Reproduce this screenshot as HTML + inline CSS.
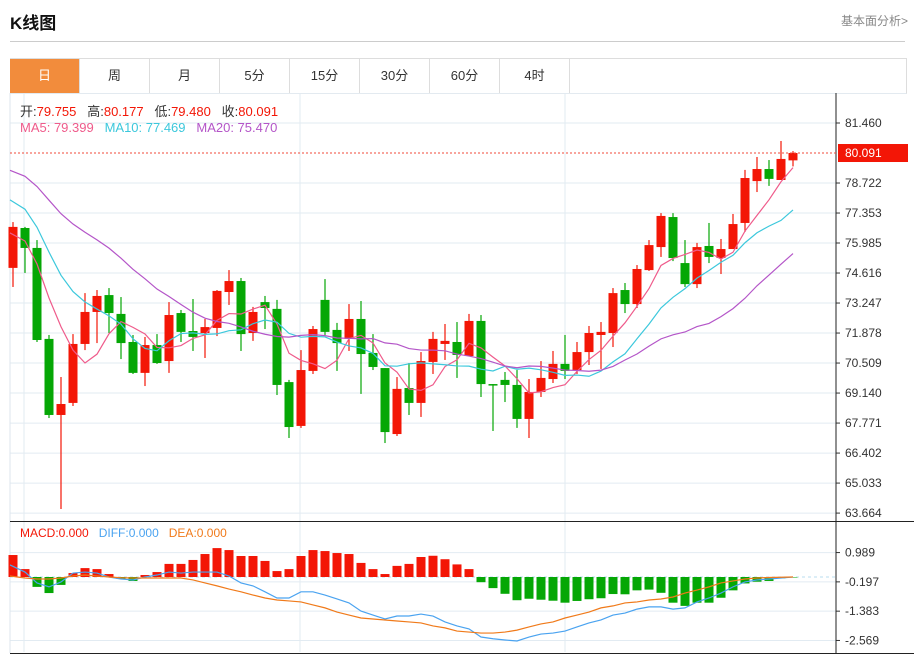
<!DOCTYPE html>
<html><head><meta charset="utf-8">
<style>
body{margin:0;background:#fff;width:914px;height:655px;overflow:hidden;font-family:"Liberation Sans","Noto Sans CJK SC",sans-serif;}
#wrap{position:relative;width:914px;height:655px;}
.t{position:absolute;white-space:nowrap;}
.tab{position:absolute;top:59px;height:34px;width:69px;border-right:1px solid #ddd;text-align:center;line-height:34px;font-size:13px;color:#333;}
</style></head><body>
<div id="wrap">
<div class="t" style="left:10px;top:9px;font-size:17px;font-weight:bold;color:#111;">K线图</div>
<div class="t" style="left:841px;top:12px;font-size:12px;color:#888;">基本面分析&gt;</div>
<div style="position:absolute;left:10px;top:41px;width:895px;height:1px;background:#ccc;"></div>
<div style="position:absolute;left:10px;top:58px;width:895px;height:34px;border:1px solid #ddd;border-bottom:1px solid #e3eaf0;"></div>
<div class="tab" style="left:10px;background:#f28c3c;color:#fff;">日</div>
<div class="tab" style="left:80px;">周</div>
<div class="tab" style="left:150px;">月</div>
<div class="tab" style="left:220px;">5分</div>
<div class="tab" style="left:290px;">15分</div>
<div class="tab" style="left:360px;">30分</div>
<div class="tab" style="left:430px;">60分</div>
<div class="tab" style="left:500px;">4时</div>
<svg id="chart" width="914" height="655" style="position:absolute;left:0;top:0;" xmlns="http://www.w3.org/2000/svg"></svg>
<div class="t" style="left:20px;top:101px;font-size:13px;color:#333;">开:<span style="color:#f31606">79.755</span>&nbsp;&nbsp; 高:<span style="color:#f31606">80.177</span>&nbsp;&nbsp; 低:<span style="color:#f31606">79.480</span>&nbsp;&nbsp; 收:<span style="color:#f31606">80.091</span></div>
<div class="t" style="left:20px;top:120px;font-size:13px;"><span style="color:#ef5b8b">MA5: 79.399</span>&nbsp;&nbsp; <span style="color:#3cc8dc">MA10: 77.469</span>&nbsp;&nbsp; <span style="color:#b455c8">MA20: 75.470</span></div>
<div class="t" style="left:20px;top:526px;font-size:12px;"><span style="color:#f31606">MACD:0.000</span>&nbsp;&nbsp; <span style="color:#4aa3f0">DIFF:0.000</span>&nbsp;&nbsp; <span style="color:#f07a1a">DEA:0.000</span></div>
</div>
<script>
const opens=[74.85,76.67,75.76,71.61,68.14,68.69,71.38,72.84,73.61,72.75,71.47,70.06,71.33,70.60,72.79,71.97,71.88,72.11,73.75,74.25,71.88,73.29,72.98,69.64,67.64,70.15,73.39,72.02,71.61,72.52,70.97,70.28,67.27,69.37,68.69,70.56,71.38,71.47,70.83,72.43,69.55,69.74,69.51,67.96,69.19,69.78,70.47,70.19,71.01,71.79,71.88,73.84,73.20,74.75,75.80,77.17,75.07,74.11,75.85,75.30,75.71,76.90,78.81,79.36,78.86,79.755];
const highs=[76.94,76.72,76.12,71.79,69.87,71.83,73.70,73.84,73.93,73.52,71.79,71.70,71.83,73.29,72.93,73.43,72.52,73.84,74.75,74.39,73.07,73.57,73.39,69.74,71.10,72.20,74.34,72.34,73.20,73.34,71.83,70.28,69.87,70.51,71.01,71.93,72.29,72.38,72.75,72.70,69.55,70.10,70.19,69.78,70.60,71.06,71.79,71.47,72.20,72.38,73.93,74.16,74.98,76.12,77.35,77.35,76.12,75.99,76.90,76.17,77.31,79.32,79.91,79.77,80.64,80.177];
const lows=[73.98,74.62,71.47,68.00,63.85,68.55,71.10,71.42,71.88,70.69,70.01,69.46,70.47,70.06,71.47,71.06,70.74,71.74,73.16,71.06,71.52,72.06,69.05,67.09,67.55,70.01,71.79,70.15,71.06,69.10,70.19,66.86,67.18,68.14,68.05,70.01,70.65,69.83,70.83,68.96,67.41,68.73,67.55,67.09,68.96,69.60,69.78,70.01,70.42,70.24,71.24,72.79,73.02,74.71,75.35,75.16,73.98,73.93,75.07,74.57,75.71,76.49,78.31,78.59,78.86,79.48];
const closes=[76.72,75.76,71.56,68.14,68.64,71.38,72.84,73.57,72.79,71.42,70.06,71.33,70.51,72.70,71.93,71.70,72.15,73.80,74.25,71.83,72.84,73.02,69.51,67.59,70.19,72.06,71.93,71.42,72.52,70.92,70.33,67.36,69.33,68.69,70.60,71.61,71.52,70.88,72.43,69.55,69.51,69.51,67.96,69.19,69.83,70.47,70.15,71.01,71.88,71.93,73.70,73.20,74.80,75.89,77.22,75.30,74.11,75.80,75.35,75.71,76.85,78.95,79.36,78.91,79.82,80.091];
const priorCloses=[81.2,80.9,80.6,81.0,80.8,80.3,80.5,80.4,80.6,80.2,80.0,79.8,79.5,79.2,78.8,77.6,76.8,75.9,75.2];
const macdBars=[0.89,0.32,-0.40,-0.65,-0.32,0.16,0.36,0.32,0.12,-0.08,-0.16,0.08,0.20,0.53,0.53,0.69,0.93,1.17,1.09,0.85,0.85,0.65,0.24,0.32,0.85,1.09,1.05,0.97,0.93,0.57,0.32,0.12,0.45,0.53,0.81,0.86,0.72,0.51,0.32,-0.21,-0.45,-0.68,-0.94,-0.88,-0.92,-0.96,-1.04,-0.97,-0.90,-0.86,-0.69,-0.70,-0.54,-0.51,-0.64,-1.04,-1.17,-1.04,-1.04,-0.84,-0.54,-0.26,-0.19,-0.16,-0.05,-0.02];
const diffVals=[0.49,0.20,-0.24,-0.40,-0.20,0.16,0.20,0.16,0,-0.08,-0.12,0,0.08,0.20,0.16,0.20,0.20,0.20,0.04,-0.24,-0.36,-0.60,-0.85,-0.85,-0.60,-0.60,-0.73,-0.89,-1.05,-1.38,-1.54,-1.70,-1.58,-1.58,-1.50,-1.58,-1.82,-1.98,-2.10,-2.43,-2.50,-2.55,-2.59,-2.43,-2.31,-2.27,-2.19,-2.02,-1.86,-1.74,-1.54,-1.46,-1.30,-1.21,-1.21,-1.30,-1.25,-1.01,-0.85,-0.65,-0.40,-0.20,-0.12,-0.08,-0.04,0];
const deaVals=[0.04,-0.04,-0.08,-0.08,-0.04,0.04,0.08,0.04,0,-0.03,-0.04,-0.04,-0.04,-0.04,-0.04,-0.12,-0.24,-0.36,-0.49,-0.60,-0.73,-0.85,-0.93,-0.97,-1.01,-1.13,-1.25,-1.42,-1.54,-1.66,-1.70,-1.74,-1.78,-1.82,-1.86,-1.98,-2.06,-2.19,-2.23,-2.27,-2.27,-2.23,-2.15,-2.02,-1.90,-1.82,-1.66,-1.54,-1.42,-1.25,-1.17,-1.05,-1.01,-0.93,-0.89,-0.81,-0.65,-0.53,-0.40,-0.24,-0.16,-0.08,-0.04,-0.02,-0.01,0];
const priceTicks=[81.460,80.091,78.722,77.353,75.985,74.616,73.247,71.878,70.509,69.140,67.771,66.402,65.033,63.664];
const macdTicks=[0.989,-0.197,-1.383,-2.569];
const lastPrice=80.091;

const svg=document.getElementById('chart');
const NS='http://www.w3.org/2000/svg';
const X=i=>13+i*12;
const Y=p=>123+(81.46-p)*21.92;
const MY=v=>577-v*24.7;
function mk(tag,a){const e=document.createElementNS(NS,tag);for(const k in a)e.setAttribute(k,a[k]);svg.appendChild(e);return e;}

// grid
priceTicks.forEach((p,i)=>{
 if(i===1)return;
 const g=mk('line',{x1:10,x2:836,y1:Y(p),y2:Y(p),stroke:'#e2ebf2','stroke-width':1});
 
 
 const t=mk('text',{x:845,y:Y(p)+4,'font-size':12,fill:'#333','font-family':'Liberation Sans, sans-serif'});
 t.textContent=p.toFixed(3);
 
 
 mk('line',{x1:836,x2:840,y1:Y(p),y2:Y(p),stroke:'#333'});
});
[24,300,565].forEach(x=>{
 const g=mk('line',{x1:x,x2:x,y1:93,y2:652,stroke:'#e2ebf2'});
 
 
});
macdTicks.forEach(v=>{
 const g=mk('line',{x1:10,x2:836,y1:MY(v),y2:MY(v),stroke:'#e2ebf2'});
 
 
 const t=mk('text',{x:845,y:MY(v)+4,'font-size':12,fill:'#333','font-family':'Liberation Sans, sans-serif'});
 t.textContent=v.toFixed(3);
 
 
 mk('line',{x1:836,x2:840,y1:MY(v),y2:MY(v),stroke:'#333'});
});
// frame
mk('line',{x1:10,x2:10,y1:93,y2:653,stroke:'#dde5ec'});
mk('line',{x1:836,x2:836,y1:93,y2:653,stroke:'#222'});
const sep=mk('line',{x1:10,x2:914,y1:521.5,y2:521.5,stroke:'#222'});


mk('line',{x1:10,x2:914,y1:653.5,y2:653.5,stroke:'#222'});

// candles
closes.forEach((c,i)=>{
 const o=opens[i],up=c>=o,col=up?'#f31606':'#05a705';
 const w=mk('line',{x1:X(i),x2:X(i),y1:Y(highs[i]),y2:Y(lows[i]),stroke:col,'stroke-width':1.2});
 
 
 const top=Y(Math.max(o,c)),bot=Y(Math.min(o,c));
 const r=mk('rect',{x:X(i)-4.5,y:top,width:9,height:Math.max(1.5,bot-top),fill:col});
 
 
});
// MAs
const all=priorCloses.concat(closes);
function ma(n){return closes.map((_,i)=>{const j=i+priorCloses.length;let s=0;for(let k=j-n+1;k<=j;k++)s+=all[k];return s/n;});}
[[5,'#ef5b8b','ma5-line'],[10,'#3cc8dc','ma10-line'],[20,'#b455c8','ma20-line']].forEach(([n,col,name])=>{
 const v=ma(n);
 const pts=v.map((p,i)=>(i===0?10:X(i))+','+Y(p)).join(' ');
 const l=mk('polyline',{points:pts,fill:'none',stroke:col,'stroke-width':1.2});
 
 
});
// last price
const lp=mk('line',{x1:10,x2:836,y1:Y(lastPrice),y2:Y(lastPrice),stroke:'#f04a3a','stroke-dasharray':'2,2'});


const lb=mk('rect',{x:838,y:Y(lastPrice)-9,width:70,height:18,fill:'#f31606'});


const lt=mk('text',{x:845,y:Y(lastPrice)+4,'font-size':12,fill:'#fff','font-family':'Liberation Sans, sans-serif'});
lt.textContent=lastPrice.toFixed(3);



// MACD
const zl=mk('line',{x1:10,x2:836,y1:MY(0),y2:MY(0),stroke:'#b8dcef','stroke-dasharray':'3,3'});


macdBars.forEach((v,i)=>{
 const y0=MY(0),y1=MY(v);
 const b=mk('rect',{x:X(i)-4.5,y:Math.min(y0,y1),width:9,height:Math.max(0.5,Math.abs(y1-y0)),fill:v>=0?'#f31606':'#05a705'});
 
 
});
[[diffVals,'#4aa3f0','diff-line'],[deaVals,'#f07a1a','dea-line']].forEach(([arr,col,name])=>{
 const pts=arr.map((v,i)=>(i===0?10:X(i))+','+MY(v)).join(' ');
 const l=mk('polyline',{points:pts,fill:'none',stroke:col,'stroke-width':1.2});
 
 
});
</script>
</body></html>
